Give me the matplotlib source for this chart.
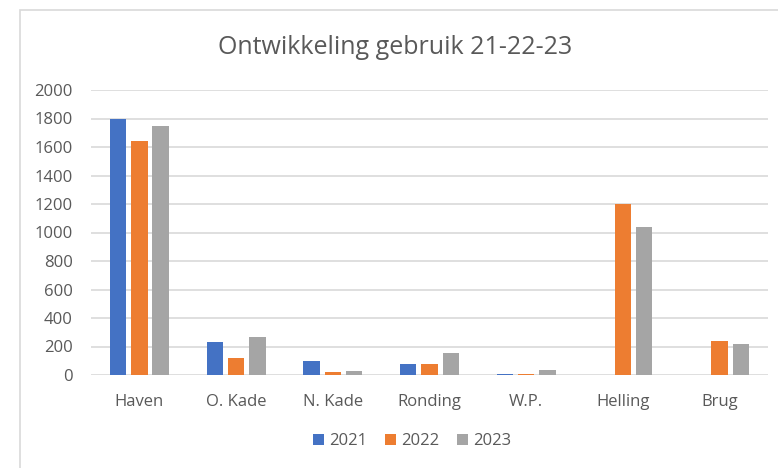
import numpy as np
import matplotlib.pyplot as plt
from matplotlib.patches import Rectangle

# data
categories = ['Haven', 'O. Kade', 'N. Kade', 'Ronding', 'W.P.', 'Helling', 'Brug']
years = ['2021', '2022', '2023']
v2021 = [1800, 230, 95, 75, 10, 0, 0]
v2022 = [1640, 120, 20, 75, 10, 1200, 240]
v2023 = [1750, 265, 30, 155, 35, 1040, 215]
yticks = [0, 200, 400, 600, 800, 1000, 1200, 1400, 1600, 1800, 2000]

colors = ['#4472C4', '#ED7D31', '#A5A5A5']
txt = '#595959'
plt.rcParams['font.family'] = ['Open Sans', 'DejaVu Sans']

fig = plt.figure(figsize=(7.78, 4.68), dpi=100)
ax = fig.add_axes([91 / 778, 1 - 375 / 468, 677 / 778, 285 / 468])

# chart frame (light gray border, cut off at right and bottom like the screenshot)
fig.patches.append(Rectangle((20 / 778, -0.1), 1.0, 1.1 - 10 / 468,
                             transform=fig.transFigure, fill=False,
                             edgecolor='#d9d9d9', linewidth=1.2))

x = np.arange(len(categories))
w = 0.17
offs = 0.22
for i, (vals, c, yr) in enumerate(zip([v2021, v2022, v2023], colors, years)):
    ax.bar(x + (i - 1) * offs, vals, width=w, color=c, label=yr, zorder=3)

ax.set_xlim(-0.5, len(categories) - 0.5)
ax.set_ylim(0, 2000)
ax.set_yticks(yticks)
ax.set_yticklabels([str(t) for t in yticks])
ax.set_xticks(x)
ax.set_xticklabels(categories)
ax.tick_params(axis='both', length=0, labelsize=12, colors=txt)
ax.tick_params(axis='y', pad=13)
ax.tick_params(axis='x', pad=14)
ax.grid(axis='y', color='#d9d9d9', linewidth=1.2, zorder=0)
for s in ax.spines.values():
    s.set_visible(False)

fig.text(395 / 778, 1 - 47 / 468, 'Ontwikkeling gebruik 21-22-23', ha='center',
         va='center', fontsize=18, color=txt)

leg = fig.legend(loc='center', bbox_to_anchor=(412 / 778, 1 - 441 / 468), ncol=3,
                 frameon=False, fontsize=12, handlelength=0.65, handleheight=0.65,
                 handletextpad=0.3, columnspacing=1.1)
for t in leg.get_texts():
    t.set_color(txt)

fig.savefig('out.png', dpi=100)
